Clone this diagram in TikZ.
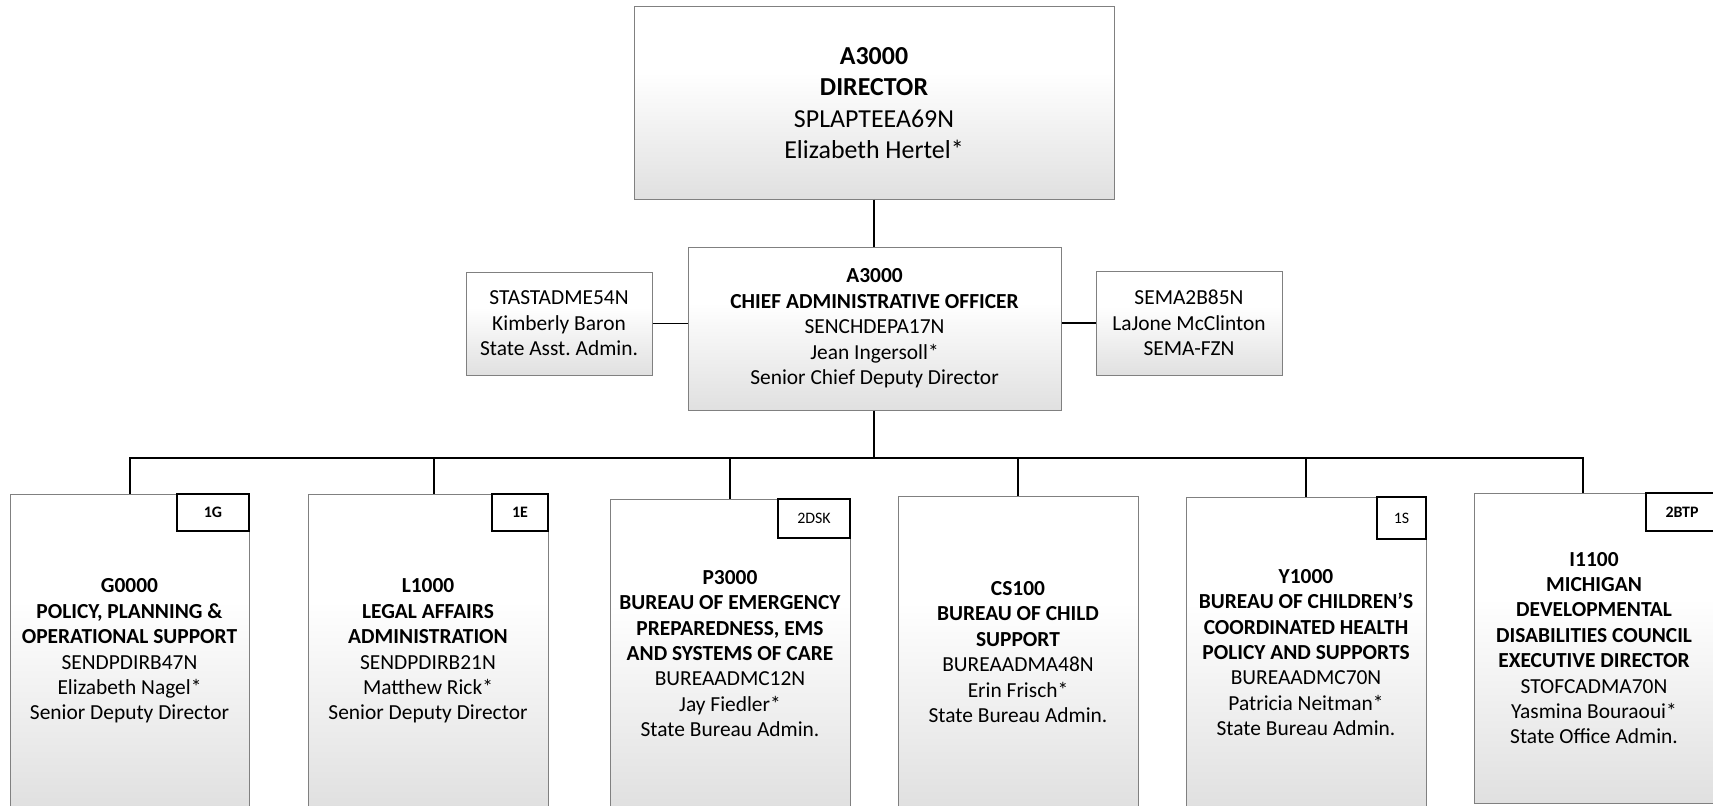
\documentclass[tikz,border=0pt]{standalone}
\usepackage{fontspec}
\setmainfont{Carlito}
\definecolor{boxline}{RGB}{128,128,128}
\definecolor{boxbot}{RGB}{224,224,224}
\pgfdeclareverticalshading{orgshade}{100bp}{color(0bp)=(boxbot); color(25bp)=(boxbot); color(58bp)=(white); color(100bp)=(white)}
\tikzset{
  orgbox/.style={draw=boxline, line width=1bp, shading=orgshade,
    align=center, inner sep=0pt, text=black},
  bigtxt/.style={font=\fontsize{26}{31.5}\selectfont},
  midtxt/.style={font=\fontsize{21.5}{25.5}\selectfont},
  tagbox/.style={draw=black, line width=1.6bp, fill=white, inner sep=0pt,
    font=\fontsize{16}{18}\selectfont},
  conn/.style={draw=black, line width=1.8bp}
}
\newcommand{\obox}[7]{% name, left, right, top, bottom, style, text
  \node[orgbox,#6, minimum width={(#3-#2)*1bp}, minimum height={(#5-#4)*1bp}]
    (#1) at ({(#2+#3)/2},{(#4+#5)/2}) {#7};}
\newcommand{\tbox}[7]{% name, left, right, top, bottom, style, text
  \node[tagbox,#6, minimum width={(#3-#2)*1bp}, minimum height={(#5-#4)*1bp}]
    (#1) at ({(#2+#3)/2},{(#4+#5)/2}) {#7};}
\begin{document}
\begin{tikzpicture}[x=1bp,y=-1bp]
\useasboundingbox (0,0) rectangle (1713,806);
\clip (0,0) rectangle (1713,806);

% top level
\obox{dir}{634}{1114}{7}{199}{bigtxt}{\textbf{A3000}\\\textbf{DIRECTOR}\\SPLAPTEEA69N\\Elizabeth Hertel*}
\obox{cao}{688}{1061}{247}{410}{midtxt}{\textbf{A3000}\\\textbf{CHIEF ADMINISTRATIVE OFFICER}\\SENCHDEPA17N\\Jean Ingersoll*\\Senior Chief Deputy Director}
\obox{asl}{466}{652}{272}{375}{midtxt}{STASTADME54N\\Kimberly Baron\\State Asst.\ Admin.}
\obox{asr}{1096}{1282}{271}{375}{midtxt}{SEMA2B85N\\LaJone McClinton\\SEMA-FZN}

% bottom row
\obox{b1}{10}{249}{494}{808}{midtxt}{\textbf{G0000}\\\textbf{POLICY, PLANNING \&}\\\textbf{OPERATIONAL SUPPORT}\\SENDPDIRB47N\\Elizabeth Nagel*\\Senior Deputy Director}
\obox{b2}{308}{548}{494}{808}{midtxt}{\textbf{L1000}\\\textbf{LEGAL AFFAIRS}\\\textbf{ADMINISTRATION}\\SENDPDIRB21N\\Matthew Rick*\\Senior Deputy Director}
\obox{b3}{610}{850}{499}{808}{midtxt}{\textbf{P3000}\\\textbf{BUREAU OF EMERGENCY}\\\textbf{PREPAREDNESS, EMS}\\\textbf{AND SYSTEMS OF CARE}\\BUREAADMC12N\\Jay Fiedler*\\State Bureau Admin.}
\obox{b4}{898}{1138}{496}{808}{midtxt}{\textbf{CS100}\\\textbf{BUREAU OF CHILD}\\\textbf{SUPPORT}\\BUREAADMA48N\\Erin Frisch*\\State Bureau Admin.}
\obox{b5}{1186}{1426}{497}{808}{midtxt}{\textbf{Y1000}\\\textbf{BUREAU OF CHILDREN’S}\\\textbf{COORDINATED HEALTH}\\\textbf{POLICY AND SUPPORTS}\\BUREAADMC70N\\Patricia Neitman*\\State Bureau Admin.}
\obox{b6}{1474}{1714}{493}{803}{midtxt}{\textbf{I1100}\\\textbf{MICHIGAN}\\\textbf{DEVELOPMENTAL}\\\textbf{DISABILITIES COUNCIL}\\\textbf{EXECUTIVE DIRECTOR}\\STOFCADMA70N\\Yasmina Bouraoui*\\State Office Admin.}

% tags
\tbox{t1}{177}{249}{494}{531}{}{\textbf{1G}}
\tbox{t2}{492}{548}{494}{531}{}{\textbf{1E}}
\tbox{t3}{778}{850}{499}{538}{}{2DSK}
\tbox{t5}{1377}{1426}{497}{539}{}{1S}
\tbox{t6}{1646}{1718}{493}{531}{}{\textbf{2BTP}}

% connectors
\coordinate (d1) at (130,458);
\coordinate (d2) at (434,458);
\coordinate (d3) at (730,458);
\coordinate (d4) at (1018,458);
\coordinate (d5) at (1306,458);
\coordinate (d6) at (1583,458);
\coordinate (hub) at (874,458);
\draw[conn] (dir.south -| hub) -- (cao.north -| hub);
\draw[conn] (asl.east) -- (asl.east -| cao.west);
\draw[conn] (asr.west) -- (asr.west -| cao.east);
\draw[conn] (cao.south -| hub) -- (hub);
\draw[conn] (d1 |- b1.north) -- (d1) -- (d6) -- (d6 |- b6.north);
\foreach \i in {2,3,4,5} { \draw[conn] (d\i) -- (d\i |- b\i.north); }
\end{tikzpicture}
\end{document}
